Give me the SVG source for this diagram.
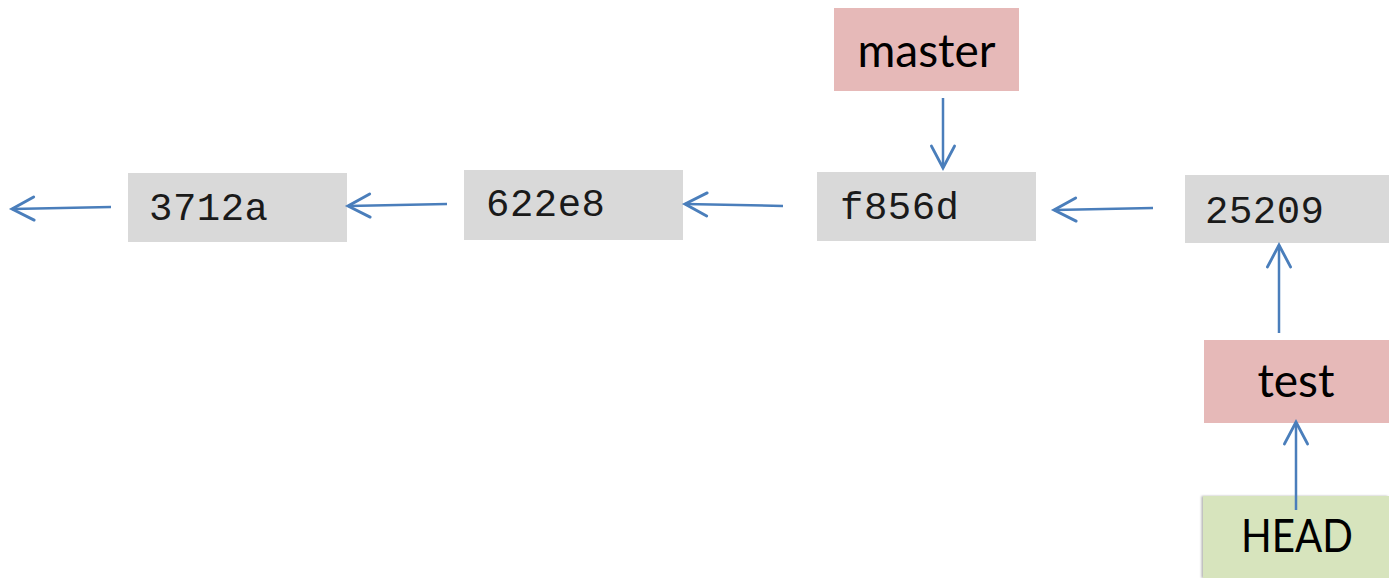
<svg xmlns="http://www.w3.org/2000/svg" width="1389" height="578" viewBox="0 0 1389 578">
  <style>
    .commit { fill: #D9D9D9; }
    .branch { fill: #E6B9B8; }
    .head { fill: #D7E4BD; }
    .hash { font-family: "Liberation Mono", "Courier New", monospace; font-size: 39px; fill: #1A1A1A; letter-spacing: 0.5px; }
    .label { font-family: Lato, "Liberation Sans", sans-serif; font-size: 46px; fill: #000000; text-anchor: middle; }
    .edge { stroke: #4A7EBB; stroke-width: 2.5; fill: none; marker-end: url(#chevron); }
  </style>
  <defs>
    <marker id="chevron" markerUnits="userSpaceOnUse" markerWidth="30" markerHeight="30" viewBox="-22 -13 26 26" refX="0" refY="0" orient="auto">
      <path d="M-19,-10 L0,0 L-19,10" fill="none" stroke="#4A7EBB" stroke-width="2.5" stroke-linecap="round" stroke-linejoin="miter"/>
    </marker>
    <filter id="edgeShadow" x="-5%" y="-5%" width="110%" height="110%">
      <feDropShadow dx="-1.5" dy="0" stdDeviation="1" flood-color="#000000" flood-opacity="0.3"/>
    </filter>
  </defs>

  <rect width="1389" height="578" fill="#FFFFFF"/>

  <!-- commits -->
  <g id="commit-3712a">
    <rect class="commit" x="128" y="173" width="219" height="69"/>
    <text class="hash" x="149" y="220">3712a</text>
  </g>
  <g id="commit-622e8">
    <rect class="commit" x="464" y="170" width="219" height="70"/>
    <text class="hash" x="486" y="216">622e8</text>
  </g>
  <g id="commit-f856d">
    <rect class="commit" x="817" y="172" width="219" height="69"/>
    <text class="hash" x="840" y="219">f856d</text>
  </g>
  <g id="commit-25209">
    <rect class="commit" x="1185" y="175" width="204" height="68"/>
    <text class="hash" x="1205" y="223">25209</text>
  </g>

  <!-- branch pointers -->
  <g id="branch-master">
    <rect class="branch" x="834" y="8" width="185" height="83"/>
    <text class="label" x="926.5" y="67">master</text>
  </g>
  <g id="branch-test">
    <rect class="branch" x="1204" y="340" width="185" height="83"/>
    <text class="label" x="1296" y="397">test</text>
  </g>
  <g id="head">
    <rect class="head" x="1203" y="496" width="186" height="82" filter="url(#edgeShadow)"/>
    <text class="label" x="1297" y="552" textLength="112" lengthAdjust="spacingAndGlyphs">HEAD</text>
  </g>

  <!-- connectors -->
  <g id="connectors">
    <line class="edge" x1="111" y1="207" x2="12" y2="209"/>
    <line class="edge" x1="447" y1="204" x2="348" y2="206"/>
    <line class="edge" x1="783" y1="206" x2="685" y2="204"/>
    <line class="edge" x1="1153" y1="208" x2="1054" y2="210"/>
    <line class="edge" x1="943" y1="98" x2="943" y2="168"/>
    <line class="edge" x1="1279" y1="333" x2="1279" y2="245"/>
    <line class="edge" x1="1296" y1="510" x2="1296" y2="422"/>
  </g>
</svg>
